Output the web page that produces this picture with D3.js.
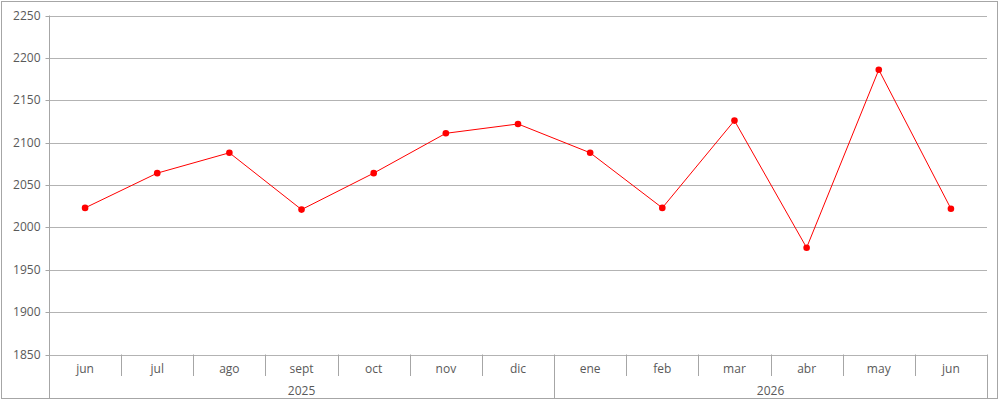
<!DOCTYPE html>
<html>
<head>
<meta charset="utf-8">
<script src="https://cdn.jsdelivr.net/npm/d3@7"></script>
<style>
  body { margin: 0; background: #fff; }
  svg text { font-family: "Open Sans", sans-serif; fill: #595959; }
</style>
</head>
<body>
<div id="chart"></div>
<script>
const months = ["jun", "jul", "ago", "sept", "oct", "nov", "dic", "ene", "feb", "mar", "abr", "may", "jun"];
const values = [2023, 2064, 2088, 2021, 2064, 2111, 2122, 2088, 2023, 2126, 1976, 2186, 2022];
const years = ["2025", "2026"];
const monthsPerYear = [7, 6];
const yTicks = [1850, 1900, 1950, 2000, 2050, 2100, 2150, 2200, 2250];

const width = 1000, height = 415;
const margin = { top: 15.5, right: 13, bottom: 61, left: 49 };
const frameBottom = 398.5;

const svg = d3.select("#chart").append("svg")
  .attr("width", width)
  .attr("height", height);

// outer frame
svg.append("rect")
  .attr("x", 1.5).attr("y", 1.5)
  .attr("width", 996).attr("height", frameBottom - 1.5)
  .attr("fill", "none").attr("stroke", "#a6a6a6");

const x = d3.scaleBand()
  .domain(d3.range(months.length))
  .range([margin.left, width - margin.right])
  .padding(0);

const y = d3.scaleLinear()
  .domain([1850, 2250])
  .range([354.5, margin.top]);

// gridlines
svg.append("g")
  .selectAll("line")
  .data(yTicks)
  .join("line")
  .attr("x1", margin.left).attr("x2", width - margin.right)
  .attr("y1", (d) => Math.round(y(d)) + 0.5)
  .attr("y2", (d) => Math.round(y(d)) + 0.5)
  .attr("stroke", "#b3b3b3");

// Y axis
const yAxis = svg.append("g")
  .attr("transform", `translate(${margin.left + 0.5}, 0)`)
  .call(d3.axisLeft(y).tickValues(yTicks).tickSize(4).tickPadding(5).tickFormat(d3.format("d")));
yAxis.select(".domain").remove();
yAxis.selectAll(".tick line").attr("stroke", "#a6a6a6");
yAxis.selectAll(".tick text").attr("font-size", 12).attr("fill", "#595959")
  .style("font-family", "'Open Sans', sans-serif");
yAxis.selectAll(".tick").attr("transform", (d) => `translate(0, ${Math.round(y(d)) + 0.5})`);

// vertical axis line
svg.append("line")
  .attr("x1", margin.left + 0.5).attr("x2", margin.left + 0.5)
  .attr("y1", margin.top).attr("y2", frameBottom)
  .attr("stroke", "#a6a6a6");

// category axis: month separators
const bounds = d3.range(months.length + 1).map((i) => margin.left + i * x.bandwidth());
const yearBounds = [0];
monthsPerYear.forEach((n, i) => yearBounds.push(yearBounds[i] + n));

svg.append("g")
  .selectAll("line")
  .data(bounds)
  .join("line")
  .attr("x1", (d) => Math.round(d) + 0.5)
  .attr("x2", (d) => Math.round(d) + 0.5)
  .attr("y1", 354.5)
  .attr("y2", (d, i) => (yearBounds.includes(i) ? frameBottom : 376))
  .attr("stroke", "#a6a6a6");

// month labels
svg.append("g")
  .selectAll("text")
  .data(months)
  .join("text")
  .attr("x", (d, i) => x(i) + x.bandwidth() / 2)
  .attr("y", 373)
  .attr("text-anchor", "middle")
  .attr("font-size", 12)
  .text((d) => d);

// year labels
svg.append("g")
  .selectAll("text")
  .data(years)
  .join("text")
  .attr("x", (d, i) => (bounds[yearBounds[i]] + bounds[yearBounds[i + 1]]) / 2)
  .attr("y", 395)
  .attr("text-anchor", "middle")
  .attr("font-size", 12)
  .text((d) => d);

// line
const line = d3.line()
  .x((d, i) => x(i) + x.bandwidth() / 2)
  .y((d) => y(d));

svg.append("path")
  .datum(values)
  .attr("d", line)
  .attr("fill", "none")
  .attr("stroke", "#ff0000")
  .attr("stroke-width", 1);

svg.append("g")
  .selectAll("circle")
  .data(values)
  .join("circle")
  .attr("cx", (d, i) => x(i) + x.bandwidth() / 2)
  .attr("cy", (d) => y(d))
  .attr("r", 3.3)
  .attr("fill", "#ff0000");
</script>
</body>
</html>
